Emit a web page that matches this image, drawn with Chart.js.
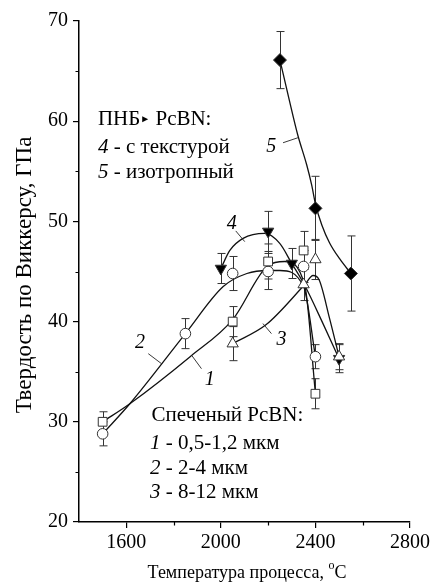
<!DOCTYPE html>
<html><head><meta charset="utf-8">
<script src="https://cdn.jsdelivr.net/npm/chart.js@4/dist/chart.umd.min.js"></script>
<style>html,body{margin:0;padding:0;background:#fff}</style>
</head><body>
<canvas id="c" width="441" height="587"></canvas>
<script>
// ---- measured markers (temperature °C, hardness GPa, error GPa) ----
const s1_T = [1500, 2050, 2200, 2350, 2400];
const s1_H = [30.0, 40.0, 46.0, 47.1, 32.8];
const s1_E = [1.0, 1.5, 1.75, 1.9, 1.5];
const s2_T = [1500, 1850, 2050, 2200, 2350, 2400];
const s2_H = [28.8, 38.8, 44.8, 45.0, 45.5, 36.5];
const s2_E = [1.2, 1.5, 1.7, 1.8, 1.6, 1.2];
const s3_T = [2050, 2350, 2400, 2500];
const s3_H = [37.8, 43.7, 46.2, 36.5];
const s3_E = [1.7, 1.6, 2.0, 1.3];
const s4_T = [2000, 2200, 2300, 2500];
const s4_H = [45.3, 49.0, 45.8, 36.3];
const s4_E = [1.5, 2.0, 1.5, 1.4];
const s5_T = [2250, 2400, 2550];
const s5_H = [66.1, 51.3, 44.8];
const s5_E = [2.85, 3.2, 3.75];

// ---- fitted curves ----
const c1_T = [1500, 1615, 1870, 2050, 2200, 2270, 2355, 2400];
const c1_H = [30.0, 31.8, 36.5, 40.2, 45.6, 46.0, 43.6, 32.8];
const c2_T = [1500, 1615, 1850, 2010, 2110, 2200, 2250, 2350, 2400];
const c2_H = [28.8, 31.8, 38.8, 43.5, 44.8, 45.1, 45.1, 43.5, 36.5];
const c3_T = [2050, 2192, 2355, 2390, 2415, 2460, 2500];
const c3_H = [37.8, 39.7, 43.7, 44.6, 44.2, 40.3, 36.5];
const c4_T = [2000, 2038, 2094, 2186, 2249, 2300, 2355, 2432, 2500];
const c4_H = [45.3, 47.1, 48.3, 48.8, 47.8, 45.8, 43.6, 39.8, 36.3];
const c5_T = [2250, 2287, 2325, 2363, 2384, 2401, 2427, 2460, 2503, 2550];
const c5_H = [66.1, 62.35, 58.65, 55.65, 53.65, 51.65, 49.65, 47.85, 46.25, 44.8];

// ---- axes ----
const xTickLabels = [1600, 2000, 2400, 2800];
const xMinor = [1800, 2200, 2600];
const yTickLabels = [20, 30, 40, 50, 60, 70];
const yMinor = [25, 35, 45, 55, 65];
const xTitle = 'Температура процесса, ';
const yTitle = 'Твердость по Виккерсу, ГПа';

const FONT = '"Liberation Serif", "Times New Roman", serif';
const pts = (T, H) => T.map((t, i) => ({x: t, y: H[i]}));

const markerSets = [
  {T: s1_T, H: s1_H, E: s1_E, style: 'rect', r: 6.2, fill: '#fff'},
  {T: s2_T, H: s2_H, E: s2_E, style: 'circle', r: 5.3, fill: '#fff'},
  {T: s3_T, H: s3_H, E: s3_E, style: 'triangle', r: 6.5, fill: '#fff', rot: 0},
  {T: s4_T, H: s4_H, E: s4_E, style: 'triangle', r: 6.5, fill: '#000', rot: 180},
  {T: s5_T, H: s5_H, E: s5_E, style: 'rectRot', r: 6.5, fill: '#000'}
];
const curves = [[c1_T, c1_H], [c2_T, c2_H], [c3_T, c3_H], [c4_T, c4_H], [c5_T, c5_H]];

const datasets = [];
markerSets.forEach(m => datasets.push({
  type: 'scatter', data: pts(m.T, m.H), pointStyle: m.style, pointRadius: m.r,
  pointRotation: m.rot || 0, pointBackgroundColor: m.fill, pointBorderColor: '#333',
  pointBorderWidth: 1, showLine: false, order: 0
}));
curves.forEach(c => datasets.push({
  type: 'line', data: pts(c[0], c[1]), borderColor: '#111', borderWidth: 1.3,
  pointRadius: 0, cubicInterpolationMode: 'monotone', fill: false, order: 1
}));

function runs(ctx, x, y, parts) {
  let cx = x;
  parts.forEach(p => {
    ctx.font = (p.it ? 'italic ' : '') + p.size + 'px ' + FONT;
    ctx.fillText(p.t, cx, y + (p.dy || 0));
    cx += ctx.measureText(p.t).width;
  });
}

const deco = {
  id: 'deco',
  beforeDatasetsDraw(chart) {
    const {ctx, scales: {x, y}} = chart;
    ctx.save();
    ctx.strokeStyle = '#333'; ctx.lineWidth = 1;
    markerSets.forEach(m => m.T.forEach((t, i) => {
      const px = Math.round(x.getPixelForValue(t)) + 0.5;
      const yt = y.getPixelForValue(m.H[i] + m.E[i]);
      const yb = y.getPixelForValue(m.H[i] - m.E[i]);
      ctx.beginPath();
      ctx.moveTo(px, yt); ctx.lineTo(px, yb);
      ctx.moveTo(px - 4, yt); ctx.lineTo(px + 4, yt);
      ctx.moveTo(px - 4, yb); ctx.lineTo(px + 4, yb);
      ctx.stroke();
    }));
    ctx.restore();
  },
  afterDraw(chart) {
    const {ctx, scales: {x, y}, chartArea: a} = chart;
    const X = v => x.getPixelForValue(v), Y = v => y.getPixelForValue(v);
    ctx.save();
    ctx.strokeStyle = '#000'; ctx.lineWidth = 1.2;
    ctx.beginPath();
    xMinor.forEach(v => { const p = Math.round(X(v)) + 0.5; ctx.moveTo(p, a.bottom); ctx.lineTo(p, a.bottom + 3.5); });
    yMinor.forEach(v => { const p = Math.round(Y(v)) + 0.5; ctx.moveTo(a.left, p); ctx.lineTo(a.left - 3.5, p); });
    ctx.stroke();
    ctx.lineWidth = 0.9; ctx.strokeStyle = '#222';
    const leaders = [[2263, 57.85, 2326, 58.35], [2063, 49.05, 2101, 47.98], [1693, 36.8, 1749, 35.8],
                     [1918, 35.3, 1876, 36.65], [2214, 38.8, 2178, 39.8]];
    ctx.beginPath();
    leaders.forEach(l => { ctx.moveTo(X(l[0]), Y(l[1])); ctx.lineTo(X(l[2]), Y(l[3])); });
    ctx.stroke();
    ctx.fillStyle = '#000'; ctx.textBaseline = 'middle'; ctx.textAlign = 'center';
    ctx.font = 'italic 20px ' + FONT;
    [['5', 2213, 57.5], ['4', 2046, 49.75], ['2', 1658, 37.85], ['1', 1953, 34.15], ['3', 2256, 38.15]]
      .forEach(l => ctx.fillText(l[0], X(l[1]), Y(l[2])));
    ctx.textAlign = 'left';
    const S = 21;
    runs(ctx, X(1480), Y(60.15), [{t: 'ПНБ', size: S}, {t: '\u25BA', size: 10, dy: 0}, {t: ' PcBN:', size: S}]);
    runs(ctx, X(1480), Y(57.35), [{t: '4', size: S, it: true}, {t: ' - с текстурой', size: S}]);
    runs(ctx, X(1480), Y(54.85), [{t: '5', size: S, it: true}, {t: ' - изотропный', size: S}]);
    runs(ctx, X(1707), Y(30.65), [{t: 'Спеченый PcBN:', size: S}]);
    runs(ctx, X(1700), Y(27.85), [{t: '1', size: S, it: true}, {t: ' - 0,5-1,2 мкм', size: S}]);
    runs(ctx, X(1700), Y(25.35), [{t: '2', size: S, it: true}, {t: ' - 2-4 мкм', size: S}]);
    runs(ctx, X(1700), Y(22.95), [{t: '3', size: S, it: true}, {t: ' - 8-12 мкм', size: S}]);
    const TS = 18;
    ctx.font = TS + 'px ' + FONT;
    const w1 = ctx.measureText(xTitle).width;
    ctx.font = '12px ' + FONT; const w2 = ctx.measureText('o').width;
    ctx.font = TS + 'px ' + FONT; const w3 = ctx.measureText('C').width;
    const sx = 247 - (w1 + w2 + w3) / 2;
    runs(ctx, sx, 573, [{t: xTitle, size: TS}, {t: 'o', size: 12, dy: -7}, {t: 'C', size: TS}]);
    ctx.translate(25, 275); ctx.rotate(-Math.PI / 2);
    ctx.textAlign = 'center'; ctx.font = '23px ' + FONT;
    ctx.fillText(yTitle, 0, 0);
    ctx.restore();
  }
};

new Chart(document.getElementById('c'), {
  data: {datasets},
  options: {
    responsive: false, animation: false, devicePixelRatio: 1,
    layout: {padding: {top: 21, right: 31, left: 0, bottom: 0}},
    plugins: {legend: {display: false}, tooltip: {enabled: false}},
    scales: {
      x: {
        type: 'linear', min: 1400, max: 2800,
        afterBuildTicks: s => { s.ticks = xTickLabels.map(v => ({value: v})); },
        afterFit: s => { s.height = 65; },
        grid: {drawOnChartArea: false, drawTicks: true, tickLength: 6, color: '#000', lineWidth: 1.2},
        border: {display: true, color: '#000', width: 1.5},
        ticks: {color: '#000', padding: 3, font: {family: FONT, size: 20}, maxRotation: 0, callback: v => String(v)}
      },
      y: {
        type: 'linear', min: 20, max: 70,
        afterBuildTicks: s => { s.ticks = yTickLabels.map(v => ({value: v})); },
        afterFit: s => { s.width = 79; },
        grid: {drawOnChartArea: false, drawTicks: true, tickLength: 6, color: '#000', lineWidth: 1.2},
        border: {display: true, color: '#000', width: 1.5},
        ticks: {color: '#000', padding: 5, font: {family: FONT, size: 20}, callback: v => String(v)}
      }
    }
  },
  plugins: [deco]
});
</script>
</body></html>
